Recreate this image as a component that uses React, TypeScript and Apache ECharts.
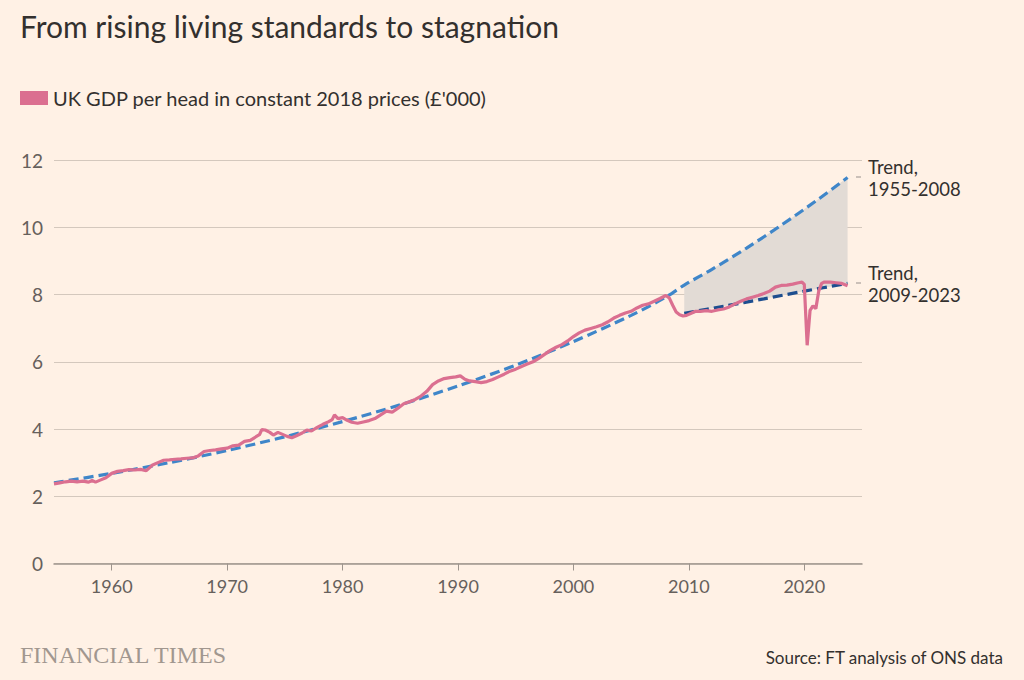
import React, { useEffect, useRef } from "react";
import * as echarts from "echarts";

// UK GDP per head, constant 2018 prices (£'000)
const gdpYears = [
  1955.0, 1955.5, 1956.0, 1956.5, 1957.0, 1957.5, 1958.0, 1958.3, 1958.6, 1959.0,
  1959.5, 1960.0, 1960.5, 1961.0, 1961.5, 1962.0, 1962.5, 1963.0, 1963.5, 1964.0,
  1964.5, 1965.0, 1965.5, 1966.0, 1966.5, 1967.0, 1967.5, 1968.0, 1968.5, 1969.0,
  1969.5, 1970.0, 1970.5, 1971.0, 1971.5, 1972.0, 1972.5, 1972.8, 1973.0, 1973.3,
  1973.7, 1974.0, 1974.4, 1974.8, 1975.2, 1975.6, 1976.0, 1976.5, 1976.9, 1977.3,
  1977.8, 1978.3, 1978.8, 1979.1, 1979.3, 1979.6, 1980.0, 1980.4, 1980.8, 1981.3,
  1981.8, 1982.3, 1982.8, 1983.3, 1983.8, 1984.3, 1984.8, 1985.3, 1985.8, 1986.3,
  1986.8, 1987.3, 1987.8, 1988.3, 1988.8, 1989.3, 1989.8, 1990.2, 1990.6, 1991.0,
  1991.5, 1992.0, 1992.5, 1993.0, 1993.5, 1994.0, 1994.5, 1995.0, 1995.5, 1996.0,
  1996.5, 1997.0, 1997.5, 1998.0, 1998.5, 1999.0, 1999.5, 2000.0, 2000.5, 2001.0,
  2001.5, 2002.0, 2002.5, 2003.0, 2003.5, 2004.0, 2004.5, 2005.0, 2005.5, 2006.0,
  2006.5, 2007.0, 2007.5, 2008.0, 2008.3, 2008.6, 2008.9, 2009.2, 2009.5, 2009.8,
  2010.2, 2010.6, 2011.0, 2011.5, 2012.0, 2012.5, 2013.0, 2013.5, 2014.0, 2014.5,
  2015.0, 2015.5, 2016.0, 2016.5, 2017.0, 2017.5, 2018.0, 2018.5, 2019.0, 2019.5,
  2019.8, 2020.0, 2020.25, 2020.5, 2020.75, 2021.0, 2021.25, 2021.5, 2021.75, 2022.25,
  2022.75, 2023.25, 2023.75,
];
const gdpValues = [
  2.37, 2.40, 2.43, 2.45, 2.43, 2.45, 2.42, 2.47, 2.42, 2.48,
  2.55, 2.68, 2.74, 2.76, 2.79, 2.78, 2.80, 2.76, 2.92, 3.00,
  3.07, 3.08, 3.10, 3.11, 3.13, 3.14, 3.20, 3.33, 3.36, 3.38,
  3.41, 3.43, 3.50, 3.52, 3.63, 3.66, 3.77, 3.83, 3.98, 3.97,
  3.90, 3.82, 3.90, 3.84, 3.78, 3.74, 3.80, 3.88, 3.97, 3.94,
  4.05, 4.14, 4.22, 4.28, 4.42, 4.31, 4.34, 4.26, 4.20, 4.17,
  4.21, 4.25, 4.31, 4.42, 4.53, 4.50, 4.62, 4.75, 4.81, 4.88,
  4.98, 5.12, 5.32, 5.43, 5.50, 5.53, 5.55, 5.58, 5.48, 5.43,
  5.41, 5.38, 5.41, 5.47, 5.55, 5.63, 5.72, 5.78, 5.86, 5.93,
  6.00, 6.10, 6.22, 6.34, 6.43, 6.51, 6.62, 6.75, 6.86, 6.94,
  6.99, 7.04, 7.10, 7.19, 7.30, 7.38, 7.45, 7.50, 7.60, 7.68,
  7.72, 7.80, 7.88, 7.97, 7.90, 7.68, 7.48, 7.40, 7.36, 7.38,
  7.44, 7.50, 7.50, 7.52, 7.50, 7.54, 7.57, 7.63, 7.72, 7.80,
  7.87, 7.92, 7.97, 8.03, 8.10, 8.22, 8.27, 8.28, 8.31, 8.35,
  8.37, 8.30, 6.49, 7.53, 7.66, 7.58, 8.10, 8.33, 8.37, 8.37,
  8.35, 8.33, 8.26,
];

// Trend 1955-2008 (extended to 2023)
const trendOldYears = [1955, 1960, 1965, 1970, 1975, 1980, 1985, 1990, 1995, 2000, 2005, 2008, 2009.6, 2012, 2015, 2018, 2021, 2023.75];
const trendOldValues = [2.40, 2.68, 3.00, 3.36, 3.77, 4.22, 4.72, 5.28, 5.90, 6.60, 7.38, 7.92, 8.28, 8.75, 9.38, 10.06, 10.78, 11.48];

// Trend 2009-2023
const trendNewYears = [2009.6, 2013, 2016.5, 2020, 2023.75];
const trendNewValues = [7.44, 7.65, 7.87, 8.10, 8.33];

const xTickValues = [1960, 1970, 1980, 1990, 2000, 2010, 2020];

const BG = "#fff1e5";
const TEXT = "#33302e";
const MUTED = "#66605c";
const FONT = "Lato, 'Noto Sans', sans-serif";

export default function App() {
  const ref = useRef<HTMLDivElement>(null);

  useEffect(() => {
    document.body.style.margin = "0";
    document.body.style.background = BG;
    if (!ref.current) return;
    const chart = echarts.init(ref.current, undefined, { renderer: "svg" });

    const gdpData = gdpYears.map((y, i) => [y, gdpValues[i]]);
    const oldData = trendOldYears.map((y, i) => [y, trendOldValues[i]]);
    const newData = trendNewYears.map((y, i) => [y, trendNewValues[i]]);
    const bandStart = trendNewYears[0];

    const annot = (x: number, y: number, text: string) => ({
      type: "text",
      x,
      y,
      style: { text, fill: TEXT, fontSize: 18.5, fontFamily: FONT, verticalAlign: "middle" },
    });

    chart.setOption({
      animation: false,
      backgroundColor: BG,
      textStyle: { fontFamily: FONT },
      grid: { left: 54, right: 162, top: 160, bottom: 116.5, containLabel: false },
      legend: {
        left: 20,
        top: 88,
        padding: 0,
        data: [{ name: "UK GDP per head in constant 2018 prices (£'000)", icon: "rect" }],
        itemWidth: 28,
        itemHeight: 14,
        itemGap: 5,
        textStyle: { color: TEXT, fontSize: 20, fontFamily: FONT },
        selectedMode: false,
      },
      xAxis: {
        type: "value",
        min: 1955,
        max: 2025,
        splitLine: { show: false },
        axisLine: { show: true, lineStyle: { color: "#9e958d", width: 1.5 } },
        axisTick: {
          show: true,
          length: 7,
          customValues: xTickValues,
          lineStyle: { color: "#9e958d" },
        },
        axisLabel: {
          customValues: xTickValues,
          color: MUTED,
          fontSize: 18,
          margin: 13,
          fontFamily: FONT,
          formatter: (v: number) => String(v),
        },
      },
      yAxis: {
        type: "value",
        min: 0,
        max: 12,
        interval: 2,
        axisLine: { show: false },
        axisTick: { show: false },
        axisLabel: { color: MUTED, fontSize: 19, margin: 11, fontFamily: FONT },
        splitLine: { lineStyle: { color: "#d4c8bd", width: 1.2 } },
      },
      series: [
        {
          type: "custom",
          silent: true,
          z: 1,
          data: [[bandStart, trendNewValues[0]]],
          renderItem: (_params: any, api: any) => {
            const pts: number[][] = [];
            trendOldYears.forEach((y, i) => {
              if (y >= bandStart) pts.push(api.coord([y, trendOldValues[i]]));
            });
            for (let i = trendNewYears.length - 1; i >= 0; i--) {
              pts.push(api.coord([trendNewYears[i], trendNewValues[i]]));
            }
            return { type: "polygon", shape: { points: pts }, style: { fill: "#e2dbd5" } };
          },
        },
        {
          name: "Trend, 1955-2008",
          type: "line",
          data: oldData,
          showSymbol: false,
          smooth: 0.3,
          z: 3,
          lineStyle: { color: "#3f86c9", width: 3.2, type: [10, 5] },
          silent: true,
        },
        {
          name: "Trend, 2009-2023",
          type: "line",
          data: newData,
          showSymbol: false,
          smooth: 0.3,
          z: 3,
          lineStyle: { color: "#1d4e8f", width: 3.2, type: [10, 5] },
          silent: true,
        },
        {
          name: "UK GDP per head in constant 2018 prices (£'000)",
          type: "line",
          data: gdpData,
          showSymbol: false,
          z: 4,
          itemStyle: { color: "#db6f90" },
          lineStyle: { color: "#db6f90", width: 3.2 },
          silent: true,
        },
      ],
      graphic: [
        {
          type: "text",
          x: 20,
          y: 26,
          style: {
            text: "From rising living standards to stagnation",
            fill: TEXT,
            fontSize: 30,
            fontFamily: FONT,
            verticalAlign: "middle",
          },
        },
        { type: "line", shape: { x1: 856, y1: 177, x2: 861, y2: 177 }, style: { stroke: "#a8a09a", lineWidth: 1.2 } },
        { type: "line", shape: { x1: 856, y1: 283, x2: 861, y2: 283 }, style: { stroke: "#a8a09a", lineWidth: 1.2 } },
        annot(868, 167, "Trend,"),
        annot(868, 189, "1955-2008"),
        annot(868, 273, "Trend,"),
        annot(868, 295, "2009-2023"),
        {
          type: "text",
          x: 20,
          y: 655,
          style: {
            text: "FINANCIAL TIMES",
            fill: "#a1978f",
            fontSize: 24,
            fontFamily: "'Liberation Serif', 'DejaVu Serif', serif",
            verticalAlign: "middle",
          },
        },
        {
          type: "text",
          x: 1003,
          y: 657,
          style: {
            text: "Source: FT analysis of ONS data",
            fill: TEXT,
            fontSize: 17,
            fontFamily: FONT,
            align: "right",
            verticalAlign: "middle",
          },
        },
      ],
    });

    return () => chart.dispose();
  }, []);

  return <div ref={ref} style={{ width: 1024, height: 680, background: BG }} />;
}
